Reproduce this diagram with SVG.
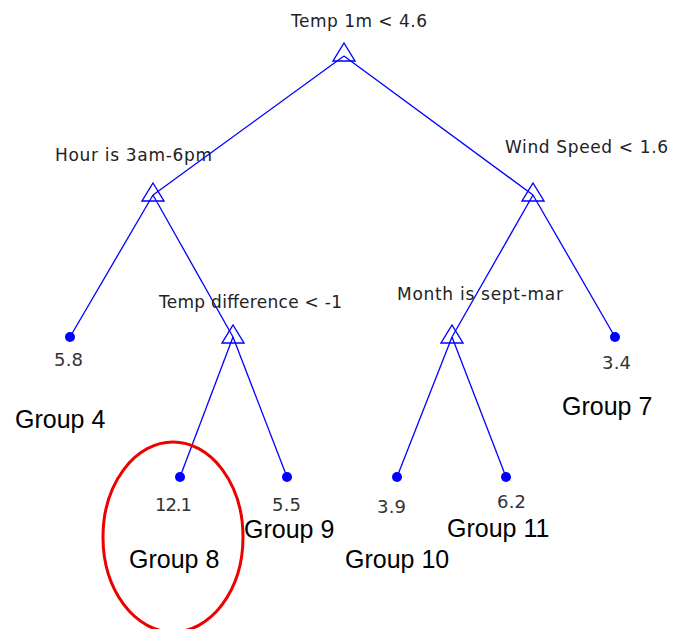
<svg xmlns="http://www.w3.org/2000/svg" width="673" height="629" viewBox="0 0 673 629">
<style>
.edge{stroke:#0000ff;stroke-width:1.3;fill:none}
.tri{stroke:#0000ff;stroke-width:1.4;fill:none}
.leaf{fill:#0000ff}
.lbl{font-family:"DejaVu Sans",Arial,sans-serif;font-size:17px;fill:#222}
.val{font-family:"DejaVu Sans",Arial,sans-serif;font-size:18px;fill:#333}
.grp{font-family:"Liberation Sans",Arial,sans-serif;font-size:25px;fill:#000}
</style>
<rect width="673" height="629" fill="#fff"/>
<g id="connectors">
<line class="edge" x1="344" y1="56" x2="153" y2="195"/>
<line class="edge" x1="344" y1="56" x2="533" y2="195"/>
<line class="edge" x1="153" y1="195" x2="70" y2="337"/>
<line class="edge" x1="153" y1="195" x2="233" y2="337"/>
<line class="edge" x1="533" y1="195" x2="452" y2="337"/>
<line class="edge" x1="533" y1="195" x2="615" y2="337"/>
<line class="edge" x1="233" y1="337" x2="180" y2="477"/>
<line class="edge" x1="233" y1="337" x2="287" y2="477"/>
<line class="edge" x1="452" y1="337" x2="397" y2="477"/>
<line class="edge" x1="452" y1="337" x2="506" y2="477"/>
</g>
<g id="root">
<polygon class="tri" points="344,43 355,61 333,61"/>
<text class="lbl" x="291" y="27" textLength="136" lengthAdjust="spacing">Temp 1m &lt; 4.6</text>
</g>
<g id="hour">
<polygon class="tri" points="153,183 164,201 142,201"/>
<text class="lbl" x="55" y="161" textLength="157" lengthAdjust="spacing">Hour is 3am-6pm</text>
</g>
<g id="wind">
<polygon class="tri" points="533,183 544,201 522,201"/>
<text class="lbl" x="505" y="153" textLength="163" lengthAdjust="spacing">Wind Speed &lt; 1.6</text>
</g>
<g id="tempdiff">
<polygon class="tri" points="233,325 244,343 222,343"/>
<text class="lbl" x="159" y="308" textLength="183" lengthAdjust="spacing">Temp difference &lt; -1</text>
</g>
<g id="month">
<polygon class="tri" points="452,325 463,343 441,343"/>
<text class="lbl" x="397" y="300" textLength="166" lengthAdjust="spacing">Month is sept-mar</text>
</g>
<g id="leaf4">
<circle class="leaf" cx="70" cy="337" r="5"/>
<text class="val" x="54" y="366" textLength="29" lengthAdjust="spacing">5.8</text>
<text class="grp" x="15" y="428">Group 4</text>
</g>
<g id="leaf7">
<circle class="leaf" cx="615" cy="337" r="5"/>
<text class="val" x="602" y="369" textLength="29" lengthAdjust="spacing">3.4</text>
<text class="grp" x="562" y="415">Group 7</text>
</g>
<g id="leaf8">
<circle class="leaf" cx="180" cy="477" r="5"/>
<text class="val" x="155" y="511" textLength="37" lengthAdjust="spacing">12.1</text>
<text class="grp" x="129" y="568">Group 8</text>
</g>
<g id="leaf9">
<circle class="leaf" cx="287" cy="477" r="5"/>
<text class="val" x="272" y="511" textLength="29" lengthAdjust="spacing">5.5</text>
<text class="grp" x="244" y="538">Group 9</text>
</g>
<g id="leaf10">
<circle class="leaf" cx="397" cy="477" r="5"/>
<text class="val" x="377" y="513" textLength="29" lengthAdjust="spacing">3.9</text>
<text class="grp" x="345" y="568">Group 10</text>
</g>
<g id="leaf11">
<circle class="leaf" cx="506" cy="477" r="5"/>
<text class="val" x="497" y="508" textLength="29" lengthAdjust="spacing">6.2</text>
<text class="grp" x="447" y="537">Group 11</text>
</g>
<ellipse id="highlight" cx="173" cy="537" rx="70" ry="95" fill="none" stroke="#ee0000" stroke-width="3"/>
</svg>
